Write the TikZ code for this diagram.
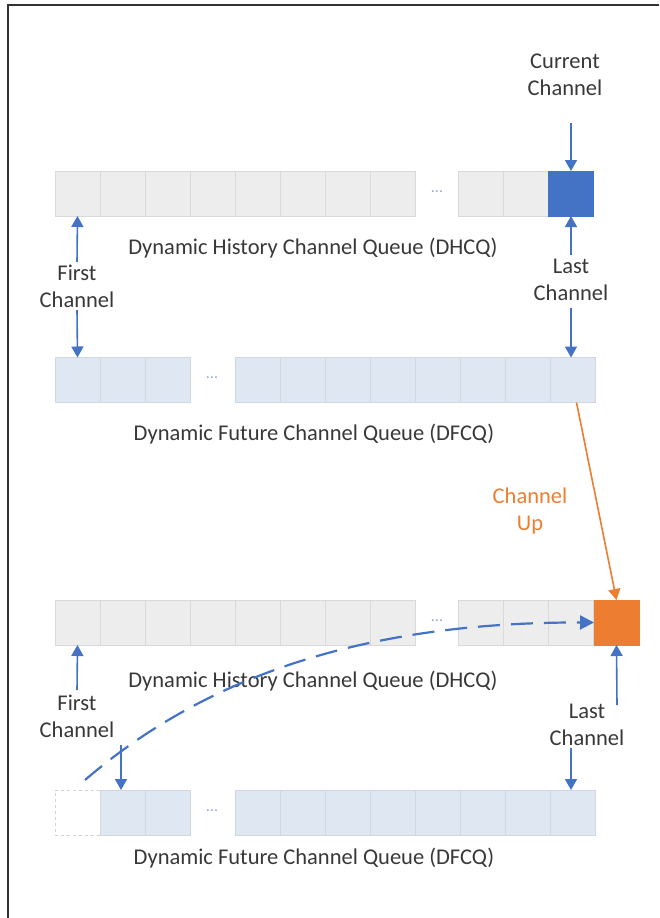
\documentclass[tikz,border=0pt]{standalone}
\usepackage{fontspec}
\setmainfont{Carlito}
\usetikzlibrary{arrows.meta}
\definecolor{oblue}{HTML}{4472C4}
\definecolor{oorange}{HTML}{ED7D31}
\definecolor{gcell}{HTML}{EDEDED}
\definecolor{bcell}{HTML}{DEE7F2}
\definecolor{cellline}{HTML}{D9D9D9}
\definecolor{txt}{HTML}{383838}
\begin{document}
\begin{tikzpicture}[x=1pt,y=-1pt,
  hcell/.style={rectangle,draw=cellline,line width=0.6pt,fill=gcell,minimum width=45pt,minimum height=45pt,inner sep=0pt,outer sep=0pt},
  fcell/.style={hcell,fill=bcell,draw=bcell!85!gray},
  ecell/.style={hcell,fill=white,draw=gray!35,dashed},
  lbl/.style={font=\fontsize{22.5}{27}\selectfont,text=txt,align=center,inner sep=0pt},
  dotsl/.style={font=\fontsize{16}{16}\selectfont,text=oblue!60,inner sep=0pt},
  arr/.style={draw=oblue,line width=1.6pt,-{Triangle[width=12pt,length=11pt]}},
  oarr/.style={draw=oorange,line width=1.6pt,-{Triangle[width=12pt,length=11pt]}},
  darr/.style={draw=oblue,line width=2.2pt,dash pattern=on 22pt off 11pt,-{Triangle[width=14pt,length=14pt]}}]
\useasboundingbox (0,0) rectangle (659,918);
\draw[line width=2pt,black!80] (7.5,918) -- (7.5,5) -- (659,5);

% top DHCQ
\foreach \i in {0,...,7} \node[hcell] (ha\i) at ({77.5+45*\i},193.5) {};
\foreach \i in {0,1} \node[hcell] (har\i) at ({480.5+45*\i},193.5) {};
\node[hcell,fill=oblue,draw=oblue] (cur) at (571,193.5) {};
\node[dotsl] (hadots) at (437,192) {...};

% top DFCQ
\foreach \i in {0,1,2} \node[fcell] (fa\i) at ({77.5+45*\i},380) {};
\foreach \i in {0,...,7} \node[fcell] (far\i) at ({257.5+45*\i},380) {};
\node[dotsl] (fadots) at (212,378) {...};

% bottom DHCQ
\foreach \i in {0,...,7} \node[hcell] (hb\i) at ({77.5+45*\i},622.5) {};
\foreach \i in {0,1,2} \node[hcell] (hbr\i) at ({480.5+45*\i},622.5) {};
\node[hcell,fill=oorange,draw=oorange] (orng) at (616.5,622.5) {};
\node[dotsl] (hbdots) at (437,621) {...};

% bottom DFCQ
\node[ecell] (fbe) at (77.5,812.5) {};
\foreach \i in {1,2} \node[fcell] (fb\i) at ({77.5+45*\i},812.5) {};
\foreach \i in {0,...,7} \node[fcell] (fbr\i) at ({257.5+45*\i},812.5) {};
\node[dotsl] (fbdots) at (212,811) {...};

% labels
\node[lbl] (cc) at (565,75) {Current\\Channel};
\node[lbl] (dh1) at (313,248) {Dynamic History Channel Queue (DHCQ)};
\node[lbl] (fc1) at (77,286) {First\\Channel};
\node[lbl] (lc1) at (571,280) {Last\\Channel};
\node[lbl] (df1) at (314,434) {Dynamic Future Channel Queue (DFCQ)};
\node[lbl,text=oorange] (cu) at (530,511) {Channel\\Up};
\node[lbl] (dh2) at (313,681) {Dynamic History Channel Queue (DHCQ)};
\node[lbl] (fc2) at (77,716) {First\\Channel};
\node[lbl] (lc2) at (587,725) {Last\\Channel};
\node[lbl] (df2) at (314,858) {Dynamic Future Channel Queue (DFCQ)};

% arrow tails
\coordinate (t1) at (571,123);
\coordinate (t2) at (571,255);
\coordinate (t3) at (571,308);
\coordinate (t4) at (77,262);
\coordinate (t5) at (77,310);
\coordinate (t6) at (77,690);
\coordinate (t7) at (617,705);
\coordinate (t8) at (121,745);
\coordinate (t9) at (571,748);
\coordinate (ds) at (85,780);

\draw[arr] (t1) -- (cur.north);
\draw[arr] (t2) -- (cur.south);
\draw[arr] (t3) -- (571,357.5);
\draw[arr] (t4) -- (ha0.south);
\draw[arr] (t5) -- (fa0.north);
\draw[oarr] ([xshift=4pt]far7.south) -- (orng.north);
\draw[arr] (t6) -- (hb0.south);
\draw[arr] (t7) -- (orng.south);
\draw[arr] (t8) -- (121,790);
\draw[arr] (t9) -- (571,790);
\draw[darr] (ds) .. controls (190,690) and (340,622) .. (orng.west);
\end{tikzpicture}
\end{document}
